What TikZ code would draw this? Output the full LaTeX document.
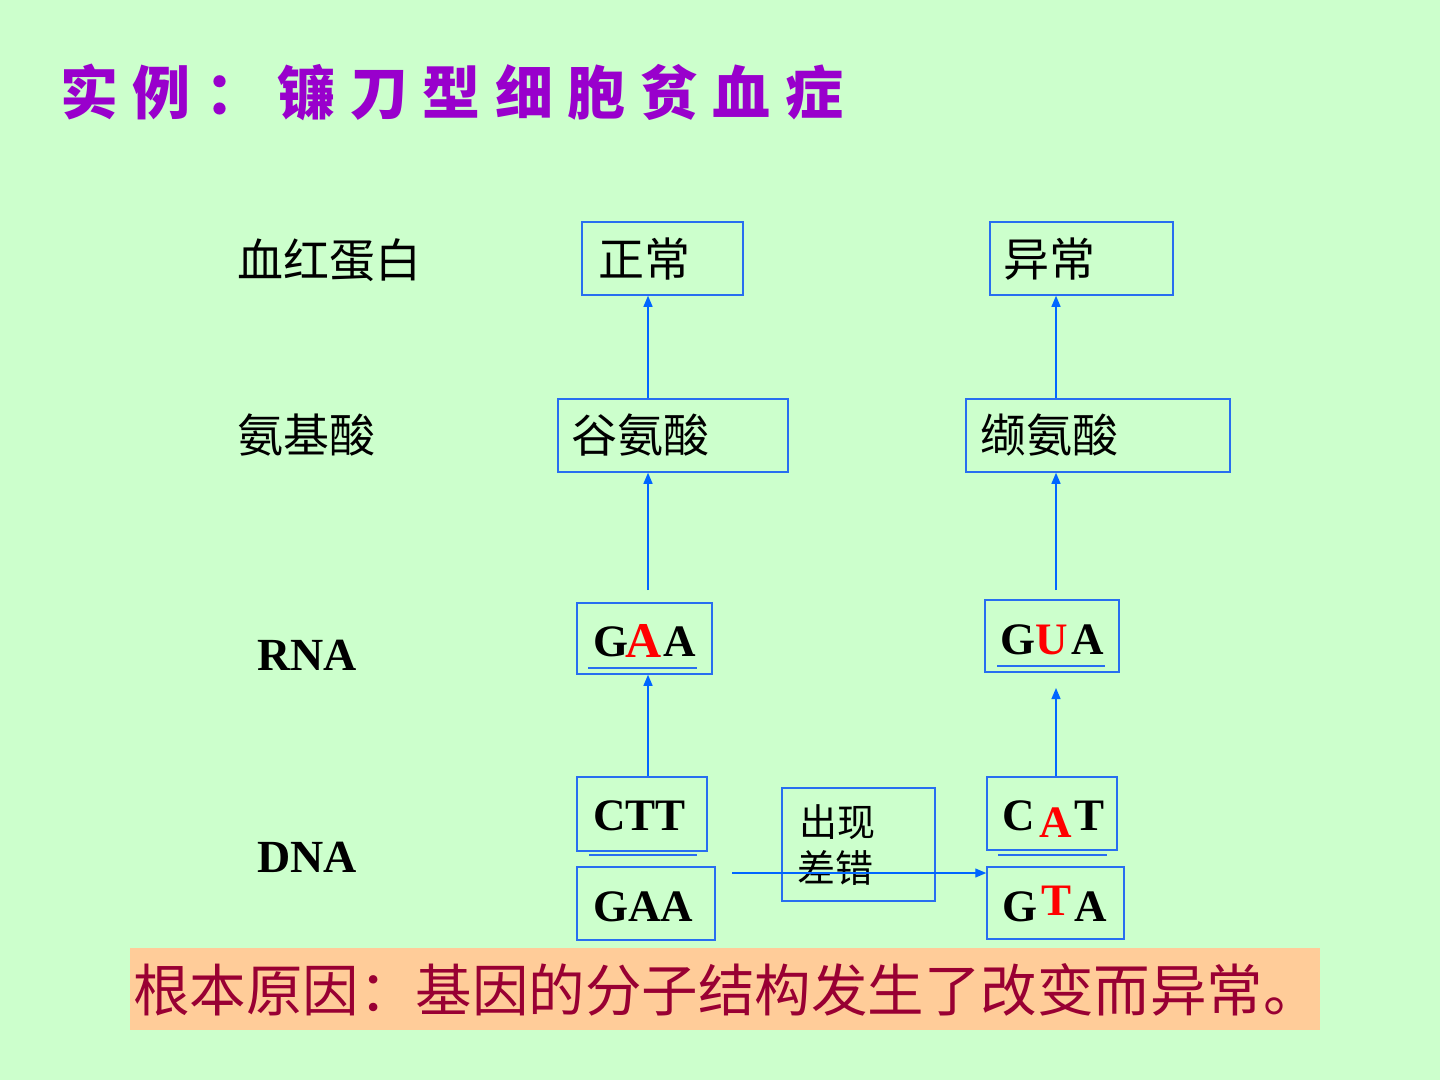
\documentclass[tikz,border=0pt]{standalone}
\usepackage{fontspec}
\setmainfont{Liberation Serif}
\newfontfamily\cjk{Noto Sans CJK SC}
\newfontfamily\titlefont[LetterSpace=25]{Noto Sans CJK SC}
\usetikzlibrary{arrows.meta}
\definecolor{bgc}{RGB}{204,255,204}
\definecolor{boxblue}{RGB}{40,110,240}
\definecolor{arrblue}{RGB}{0,102,255}
\definecolor{peach}{RGB}{255,204,153}
\definecolor{banred}{RGB}{153,0,51}
\definecolor{ttl}{RGB}{153,0,204}
\definecolor{dred}{RGB}{255,0,0}
\begin{document}
\begin{tikzpicture}[x=1pt,y=-1pt,
  box/.style={draw=boxblue,line width=1.5pt,inner sep=0pt},
  arr/.style={draw=arrblue,line width=1.3pt,-{Triangle[length=11pt,width=9pt]}},
  uline/.style={draw=boxblue,line width=1.3pt},
  cjklbl/.style={inner sep=0pt,anchor=west,font=\cjk\fontsize{46}{46}\selectfont},
  base/.style={inner sep=0pt,anchor=base west,font=\bfseries\fontsize{45}{45}\selectfont},
  cjksmall/.style={inner sep=0pt,anchor=west,font=\cjk\fontsize{38}{38}\selectfont}]
\fill[bgc] (0,0) rectangle (1440,1080);
\useasboundingbox (0,0) rectangle (1440,1080);

% title
\node[inner sep=0pt,anchor=west,text=ttl,font=\titlefont\bfseries\fontsize{58}{58}\selectfont] (title) at (60,92) {实例：镰刀型细胞贫血症};

% left labels
\node[cjklbl] (l1) at (237,260) {血红蛋白};
\node[cjklbl] (l2) at (237,435) {氨基酸};
\node[base,font=\bfseries\fontsize{46}{46}\selectfont] (l3) at (257,670) {RNA};
\node[base,font=\bfseries\fontsize{46}{46}\selectfont] (l4) at (257,872) {DNA};

% boxes
\node[box,minimum width=161pt,minimum height=73pt] (zc) at (662.5,258.5) {};
\node[box,minimum width=183pt,minimum height=73pt] (yc) at (1081.5,258.5) {};
\node[box,minimum width=230pt,minimum height=73pt] (gu) at (673,435.5) {};
\node[box,minimum width=264pt,minimum height=73pt] (xie) at (1098,435.5) {};
\node[box,minimum width=135pt,minimum height=71pt] (gaaR) at (644.5,638.5) {};
\node[box,minimum width=134pt,minimum height=72pt] (guaR) at (1052,636) {};
\node[box,minimum width=130pt,minimum height=74pt] (ctt) at (642,814) {};
\node[box,minimum width=138pt,minimum height=73pt] (gaaD) at (646,903.5) {};
\node[box,minimum width=153pt,minimum height=113pt] (mid) at (858.5,844.5) {};
\node[box,minimum width=130pt,minimum height=73pt] (cat) at (1052,813.5) {};
\node[box,minimum width=137pt,minimum height=72pt] (gta) at (1055.5,903) {};

% box texts
\node[cjklbl] (t1) at (598,259) {正常};
\node[cjklbl] (t2) at (1003,259) {异常};
\node[cjklbl] (t3) at (571,435) {谷氨酸};
\node[cjklbl] (t4) at (980,435) {缬氨酸};
\node[base] (t5) at (593,656) {G\kern-3pt{\color{dred}\fontsize{50}{50}\selectfont\raisebox{-1pt}{A}}\kern2pt A};
\node[base] (t6) at (1000,654) {G\kern0pt{\color{dred}U}\kern4pt A};
\node[base] (t7) at (593,830) {CTT};
\node[base] (t8) at (593,921) {GAA};
\node[base] (t9) at (1002,830) {C\kern5pt{\color{dred}\raisebox{-7pt}{A}}\kern2pt T};
\node[base] (t10) at (1002,921) {G\kern4pt{\color{dred}\raisebox{6pt}{T}}\kern3pt A};
\node[cjksmall] (m1) at (799,822) {出现};
\node[cjksmall] (m2) at (797,868) {差错};

% strand lines
\draw[uline] (588,668) -- (697,668);
\draw[uline] (997,666) -- (1105,666);
\draw[uline] (589,855) -- (697,855);
\draw[uline] (998,855) -- (1107,855);

% connectors
\coordinate (a1) at (648,590);
\coordinate (b1) at (1056,590);
\coordinate (b2) at (1056,688);
\coordinate (c1) at (732,873);
\draw[arr] (a1) -- (a1 |- gu.south);
\draw[arr] (gu.north -| a1) -- (zc.south -| a1);
\draw[arr] (ctt.north -| a1) -- (gaaR.south -| a1);
\draw[arr] (b1) -- (b1 |- xie.south);
\draw[arr] (xie.north -| b1) -- (yc.south -| b1);
\draw[arr] (cat.north -| b1) -- (b2);
\draw[arr] (c1) -- (c1 -| gta.west);

% banner
\node[fill=peach,inner sep=0pt,minimum width=1190pt,minimum height=82pt] (ban) at (725,989) {};
\node[inner sep=0pt,anchor=west,text=banred,font=\cjk\fontsize{56.5}{56.5}\selectfont] (bantext) at (133,990) {根本原因：基因的分子结构发生了改变而异常。};
\end{tikzpicture}
\end{document}
